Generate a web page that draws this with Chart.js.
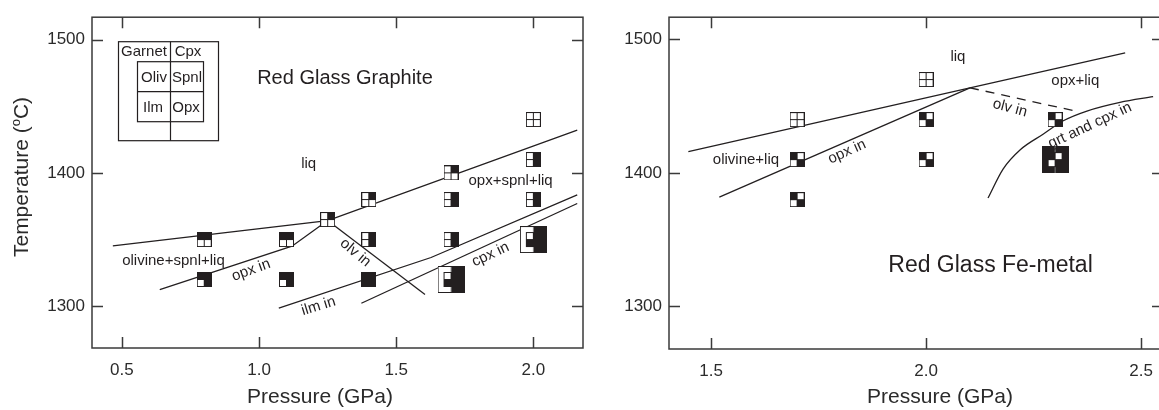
<!DOCTYPE html>
<html><head><meta charset="utf-8">
<script src="https://cdn.jsdelivr.net/npm/chart.js@4.4.0/dist/chart.umd.min.js"></script>
<style>
html,body{margin:0;padding:0;background:#fff;overflow:hidden;width:1159px;height:410px;}
#c1{position:absolute;left:0;top:0;}
#c2{position:absolute;left:590px;top:0;}
</style></head><body>
<canvas id="c1" width="590" height="410"></canvas>
<canvas id="c2" width="580" height="410"></canvas>
<script>
// ---------------- DATA ----------------
// Left panel: Red Glass Graphite experiments
const graphitePressure = [0.8, 1.1, 0.8, 1.1, 1.25, 1.4, 1.4, 1.4, 1.7, 1.7, 1.7, 1.7, 2.0, 2.0, 2.0, 2.0];
const graphiteTemp     = [1350, 1350, 1320, 1320, 1365, 1380, 1350, 1320, 1400, 1380, 1350, 1320, 1440, 1410, 1380, 1350];
const graphitePhases   = ['Oliv+Spnl', 'Oliv+Spnl', 'Oliv+Spnl+Opx', 'Oliv+Spnl+Opx', 'Spnl', 'Spnl', 'Spnl+Opx',
                          'Oliv+Spnl+Ilm+Opx', 'Spnl', 'Spnl+Opx', 'Spnl+Opx', 'Cpx+Spnl+Ilm+Opx', '', 'Spnl+Opx', 'Spnl+Opx', 'Cpx+Spnl+Ilm+Opx'];

// Left panel phase boundaries
const gLiqP = [0.467, 1.25, 2.16];   const gLiqT = [1345.3, 1364.2, 1432];
const gOpxP = [0.638, 1.12, 1.25];   const gOpxT = [1312.4, 1345, 1364.2];
const gOlvP = [1.25, 1.605];         const gOlvT = [1364.2, 1308.8];
const gIlmP = [1.072, 1.627, 2.16];  const gIlmT = [1298.5, 1336.5, 1383.5];
const gCpxP = [1.373, 2.16];         const gCpxT = [1302.2, 1377];

// Right panel: Red Glass Fe-metal experiments
const femetalPressure = [1.7, 1.7, 1.7, 2.0, 2.0, 2.0, 2.3, 2.3];
const femetalTemp     = [1440, 1410, 1380, 1470, 1440, 1410, 1440, 1410];
const femetalPhases   = ['', 'Oliv+Opx', 'Oliv+Opx', '', 'Oliv+Opx', 'Oliv+Opx', 'Oliv+Opx', 'Garnet+Cpx+Oliv+Opx'];

// Right panel phase boundaries
const fLiqP = [1.447, 2.102, 2.463];  const fLiqT = [1416, 1463.8, 1489.9];
const fOpxP = [1.519, 2.102];         const fOpxT = [1381.9, 1463.8];
const fOlvP = [2.102, 2.347];         const fOlvT = [1463.8, 1446.4];
const fGrtP = [2.144, 2.179, 2.219, 2.272, 2.319, 2.374, 2.451, 2.528];
const fGrtT = [1381.2, 1402.9, 1417.4, 1429, 1439.1, 1446.4, 1452.9, 1457.2];

const xTicksLeft = [0.5, 1.0, 1.5, 2.0];
const xTicksRight = [1.5, 2.0, 2.5];
const yTicks = [1300, 1400, 1500];

// ---------------- STYLE ----------------
const INK = '#231f20';
const FRAME = '#3a3a3a';
const FONT = '"Liberation Sans", Arial, Helvetica, sans-serif';
Chart.defaults.font.family = FONT;
Chart.defaults.color = '#2b2b2b';
Chart.defaults.animation = false;

function pts(xs, ys) { return xs.map((v, i) => ({x: v, y: ys[i]})); }

function makeMarker(code) {
  const has = p => code.split('+').includes(p);
  const big = has('Garnet') || has('Cpx');
  const size = big ? 27 : 15;
  const c = document.createElement('canvas');
  c.width = size; c.height = size;
  const g = c.getContext('2d');
  g.lineWidth = 1; g.strokeStyle = INK;
  let o = 0;
  if (big) {
    g.fillStyle = has('Garnet') ? INK : '#fff'; g.fillRect(0, 0, 13.5, 27);
    g.fillStyle = has('Cpx') ? INK : '#fff'; g.fillRect(13.5, 0, 13.5, 27);
    g.strokeRect(0.5, 0.5, 26, 26);
    if (has('Garnet') && has('Cpx')) {
      g.strokeStyle = '#777'; g.beginPath(); g.moveTo(13.5, 0); g.lineTo(13.5, 27); g.stroke(); g.strokeStyle = INK;
    }
    o = 6;
  }
  g.fillStyle = '#fff'; g.fillRect(o, o, 15, 15);
  [['Oliv', 0, 0], ['Spnl', 1, 0], ['Ilm', 0, 1], ['Opx', 1, 1]].forEach(([p, i, j]) => {
    if (has(p)) { g.fillStyle = INK; g.fillRect(o + i * 7, o + j * 7, 8, 8); }
  });
  g.strokeRect(o + 0.5, o + 0.5, 14, 14);
  g.beginPath();
  g.moveTo(o + 7.5, o); g.lineTo(o + 7.5, o + 15);
  g.moveTo(o, o + 7.5); g.lineTo(o + 15, o + 7.5);
  g.stroke();
  return c;
}

function lineDS(xs, ys, extra) {
  return Object.assign({
    data: pts(xs, ys), showLine: true, borderColor: INK, borderWidth: 1.3,
    pointRadius: 0, fill: false, order: 1
  }, extra || {});
}

function markerDS(xs, ys, codes) {
  return {
    data: pts(xs, ys), showLine: false, pointStyle: codes.map(makeMarker),
    pointRadius: 6, order: 0
  };
}

function decor(o) {
  return {
    id: 'decor',
    afterDatasetsDraw(chart) {
      const {ctx, chartArea: a, scales: {x, y}} = chart;
      ctx.save();
      ctx.strokeStyle = FRAME; ctx.lineWidth = 1.5;
      ctx.strokeRect(a.left, a.top, a.right - a.left, a.bottom - a.top);
      const TL = 11;
      ctx.beginPath();
      x.ticks.forEach(t => {
        const px = Math.round(x.getPixelForValue(t.value)) + 0.5;
        ctx.moveTo(px, a.bottom); ctx.lineTo(px, a.bottom - TL);
        ctx.moveTo(px, a.top); ctx.lineTo(px, a.top + TL);
      });
      y.ticks.forEach(t => {
        const py = Math.round(y.getPixelForValue(t.value)) + 0.5;
        ctx.moveTo(a.left, py); ctx.lineTo(a.left + TL, py);
        ctx.moveTo(a.right, py); ctx.lineTo(a.right - TL, py);
      });
      ctx.stroke();

      // annotations in data coordinates
      ctx.fillStyle = INK;
      o.labels.forEach(l => {
        ctx.save();
        ctx.translate(x.getPixelForValue(l.p), y.getPixelForValue(l.t));
        ctx.rotate((l.rot || 0) * Math.PI / 180);
        ctx.font = (l.size || 15) + 'px ' + FONT;
        ctx.textAlign = l.align || 'center';
        ctx.textBaseline = l.base || 'middle';
        ctx.fillText(l.text, 0, 0);
        ctx.restore();
      });

      // x axis title
      ctx.fillStyle = '#2b2b2b';
      ctx.font = '21px ' + FONT;
      ctx.textAlign = 'center'; ctx.textBaseline = 'alphabetic';
      ctx.fillText('Pressure (GPa)', o.xTitleX, 403);

      if (o.yTitle) {
        ctx.save();
        ctx.translate(28, 177);
        ctx.rotate(-Math.PI / 2);
        ctx.font = '21px ' + FONT;
        const w1 = ctx.measureText('Temperature (').width;
        ctx.font = '13px ' + FONT;
        const w2 = ctx.measureText('o').width;
        ctx.font = '21px ' + FONT;
        const w3 = ctx.measureText('C)').width;
        let sx = -(w1 + w2 + w3) / 2;
        ctx.textAlign = 'left';
        ctx.fillText('Temperature (', sx, 0);
        ctx.font = '13px ' + FONT;
        ctx.fillText('o', sx + w1, -8);
        ctx.font = '21px ' + FONT;
        ctx.fillText('C)', sx + w1 + w2, 0);
        ctx.restore();
      }

      if (o.inset) {
        const L = a.left, T = a.top;
        ctx.strokeStyle = INK; ctx.lineWidth = 1.2;
        ctx.strokeRect(L + 26.5, T + 24.5, 100, 99);
        ctx.beginPath(); ctx.moveTo(L + 78.5, T + 24.5); ctx.lineTo(L + 78.5, T + 123.5); ctx.stroke();
        ctx.fillStyle = '#fff';
        ctx.fillRect(L + 45.5, T + 44.5, 66, 60);
        ctx.strokeRect(L + 45.5, T + 44.5, 66, 60);
        ctx.beginPath();
        ctx.moveTo(L + 78.5, T + 44.5); ctx.lineTo(L + 78.5, T + 104.5);
        ctx.moveTo(L + 45.5, T + 74.5); ctx.lineTo(L + 111.5, T + 74.5);
        ctx.stroke();
        ctx.fillStyle = INK; ctx.font = '15px ' + FONT;
        ctx.textAlign = 'center'; ctx.textBaseline = 'middle';
        [['Garnet', 52, 35], ['Cpx', 96, 35], ['Oliv', 62, 61], ['Spnl', 95, 61], ['Ilm', 61, 91], ['Opx', 94, 91]]
          .forEach(([s, dx, dy]) => ctx.fillText(s, L + dx, T + dy));
      }
      ctx.restore();
    }
  };
}

function scaleOpts(min, max, ticks, fixed, isX) {
  return {
    type: 'linear', min: min, max: max,
    afterBuildTicks: s => { s.ticks = ticks.map(v => ({value: v})); },
    afterFit: s => { if (isX) s.height = fixed; else s.width = fixed; },
    grid: {display: false, drawTicks: false},
    border: {display: false},
    ticks: {
      padding: isX ? 12 : 7,
      font: {size: 17},
      color: '#2b2b2b',
      callback: v => isX ? Number(v).toFixed(1) : String(v)
    }
  };
}

// -------- Left chart --------
new Chart(document.getElementById('c1'), {
  type: 'scatter',
  data: {
    datasets: [
      markerDS(graphitePressure, graphiteTemp, graphitePhases),
      lineDS(gLiqP, gLiqT), lineDS(gOpxP, gOpxT), lineDS(gOlvP, gOlvT),
      lineDS(gIlmP, gIlmT), lineDS(gCpxP, gCpxT)
    ]
  },
  options: {
    responsive: false, devicePixelRatio: 1, events: [],
    layout: {padding: {left: 0, right: 4, top: 8, bottom: 0}},
    plugins: {legend: {display: false}, tooltip: {enabled: false}},
    scales: {
      x: scaleOpts(0.391, 2.181, xTicksLeft, 62, true),
      y: scaleOpts(1268.6, 1516.8, yTicks, 92, false)
    }
  },
  plugins: [decor({
    xTitleX: 320, yTitle: true, inset: true,
    labels: [
      {text: 'Red Glass Graphite', p: 0.993, t: 1466.4, size: 20, align: 'left', base: 'alphabetic'},
      {text: 'liq', p: 1.181, t: 1406.6},
      {text: 'opx+spnl+liq', p: 1.917, t: 1394.2},
      {text: 'olivine+spnl+liq', p: 0.688, t: 1334.3},
      {text: 'opx in', p: 0.971, t: 1327.0, rot: -20},
      {text: 'olv in', p: 1.351, t: 1340.1, rot: 40},
      {text: 'ilm in', p: 1.217, t: 1300.0, rot: -17},
      {text: 'cpx in', p: 1.844, t: 1338.7, rot: -25}
    ]
  })]
});

// -------- Right chart --------
new Chart(document.getElementById('c2'), {
  type: 'scatter',
  data: {
    datasets: [
      markerDS(femetalPressure, femetalTemp, femetalPhases),
      lineDS(fLiqP, fLiqT), lineDS(fOpxP, fOpxT),
      lineDS(fOlvP, fOlvT, {borderDash: [9, 7]}),
      lineDS(fGrtP, fGrtT, {cubicInterpolationMode: 'monotone'})
    ]
  },
  options: {
    responsive: false, devicePixelRatio: 1, events: [],
    layout: {padding: {left: 0, right: 7, top: 6, bottom: 0}},
    plugins: {legend: {display: false}, tooltip: {enabled: false}},
    scales: {
      x: scaleOpts(1.402, 2.551, xTicksRight, 61, true),
      y: scaleOpts(1268.1, 1516.7, yTicks, 79, false)
    }
  },
  plugins: [decor({
    xTitleX: 350, yTitle: false, inset: false,
    labels: [
      {text: 'Red Glass Fe-metal', p: 1.912, t: 1326.1, size: 23, align: 'left', base: 'alphabetic'},
      {text: 'liq', p: 2.074, t: 1486.9},
      {text: 'opx+liq', p: 2.347, t: 1468.8},
      {text: 'olivine+liq', p: 1.581, t: 1410.1},
      {text: 'opx in', p: 1.816, t: 1415.9, rot: -24},
      {text: 'olv in', p: 2.195, t: 1448.6, rot: 15},
      {text: 'grt and cpx in', p: 2.381, t: 1435.5, rot: -25}
    ]
  })]
});
</script>
</body></html>
